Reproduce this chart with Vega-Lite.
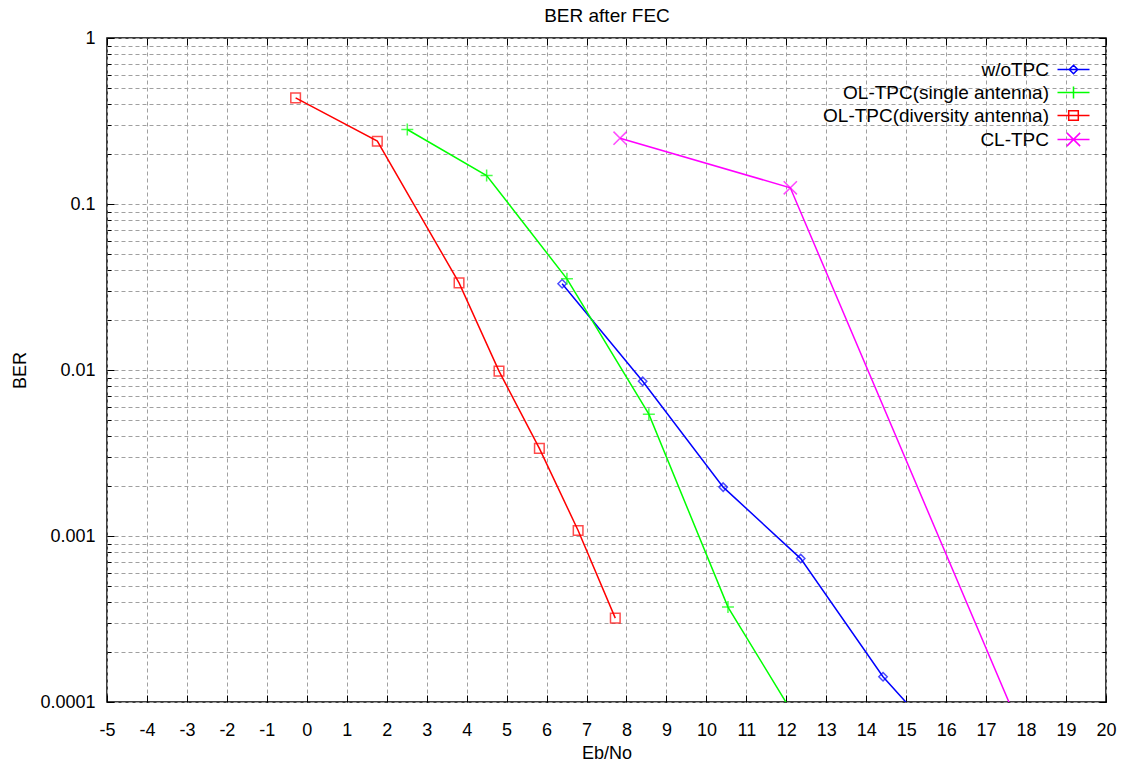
{
  "$schema": "https://vega.github.io/schema/vega-lite/v6.json",
  "width": 999,
  "height": 664,
  "autosize": {"type": "none"},
  "padding": {"left": 107, "top": 38, "right": 18, "bottom": 60},
  "background": "white",
  "config": {
    "font": "Liberation Sans",
    "view": {"stroke": "black", "strokeWidth": 1.5},
    "axis": {"domain": false, "labelFont": "Liberation Sans", "labelFontSize": 18, "labelColor": "black", "tickColor": "black", "tickWidth": 1, "gridColor": "#a0a0a0", "gridDash": [4, 3], "gridWidth": 1, "titleFont": "Liberation Sans", "titleFontSize": 18, "titleFontWeight": "normal", "titleColor": "black", "labelOverlap": false, "labelFlush": false}
  },
  "datasets": {
    "ber": [
      {"series": "w/oTPC", "x": 6.39, "y": 0.0331},
      {"series": "w/oTPC", "x": 8.405, "y": 0.00856},
      {"series": "w/oTPC", "x": 10.42, "y": 0.00197},
      {"series": "w/oTPC", "x": 12.36, "y": 0.000731},
      {"series": "w/oTPC", "x": 14.42, "y": 0.000142},
      {"series": "w/oTPC", "x": 16.4, "y": 0.000042},
      {"series": "OL-TPC(single antenna)", "x": 2.515, "y": 0.281},
      {"series": "OL-TPC(single antenna)", "x": 4.5, "y": 0.1485},
      {"series": "OL-TPC(single antenna)", "x": 6.51, "y": 0.0354},
      {"series": "OL-TPC(single antenna)", "x": 8.56, "y": 0.00542},
      {"series": "OL-TPC(single antenna)", "x": 10.54, "y": 0.000373},
      {"series": "OL-TPC(single antenna)", "x": 12.55, "y": 0.00006},
      {"series": "OL-TPC(diversity antenna)", "x": -0.28, "y": 0.436},
      {"series": "OL-TPC(diversity antenna)", "x": 1.765, "y": 0.239},
      {"series": "OL-TPC(diversity antenna)", "x": 3.81, "y": 0.0335},
      {"series": "OL-TPC(diversity antenna)", "x": 4.81, "y": 0.00984},
      {"series": "OL-TPC(diversity antenna)", "x": 5.82, "y": 0.00337},
      {"series": "OL-TPC(diversity antenna)", "x": 6.79, "y": 0.00108},
      {"series": "OL-TPC(diversity antenna)", "x": 7.72, "y": 0.00032},
      {"series": "CL-TPC", "x": 7.84, "y": 0.249},
      {"series": "CL-TPC", "x": 12.1, "y": 0.1252},
      {"series": "CL-TPC", "x": 18.2, "y": 0.000044}
    ]
  },
  "data": {"name": "ber"},
  "layer": [
    {
      "mark": {"type": "line", "strokeWidth": 1.5, "clip": true},
      "encoding": {
        "x": {"field": "x", "type": "quantitative", "scale": {"domain": [-5, 20], "nice": false, "zero": false},
          "axis": {"orient": "bottom", "values": [-5,-4,-3,-2,-1,0,1,2,3,4,5,6,7,8,9,10,11,12,13,14,15,16,17,18,19,20], "grid": true, "ticks": true, "tickSize": -7, "labelExpr": "'' + datum.value", "labelBaseline": "alphabetic", "labelPadding": 40.7, "title": "Eb/No", "titleBaseline": "alphabetic", "titleY": 56}},
        "y": {"field": "y", "type": "quantitative", "scale": {"type": "log", "domain": [0.0001, 1], "nice": false},
          "axis": {"orient": "left", "values": [0.0001, 0.001, 0.01, 0.1, 1], "grid": false, "ticks": true, "tickSize": -7, "labelExpr": "'' + datum.value", "labelBaseline": "middle", "labelPadding": 19, "title": "BER", "titleBaseline": "alphabetic", "titleX": -82}},
        "color": {"field": "series", "type": "nominal",
          "scale": {"domain": ["w/oTPC", "OL-TPC(single antenna)", "OL-TPC(diversity antenna)", "CL-TPC"], "range": ["#0000ff", "#00ff00", "#ff0000", "#ff00ff"]},
          "legend": {"title": null, "orient": "none", "legendX": 957, "legendY": 22, "padding": 0, "symbolSize": 256, "symbolStrokeWidth": 1.5, "labelFontSize": 19, "labelFont": "Liberation Sans", "labelColor": "black", "labelAlign": "right", "labelOffset": -34, "labelLimit": 400, "rowPadding": 3,
            "encode": {"symbols": {"update": {"shape": {"signal": "datum.value === 'w/oTPC' ? 'M-2,0H2M0,-0.53L0.53,0L0,0.53L-0.53,0Z' : datum.value === 'OL-TPC(single antenna)' ? 'M-2,0H2M0,-0.75V0.75' : datum.value === 'OL-TPC(diversity antenna)' ? 'M-2,0H2M-0.6,-0.6H0.6V0.6H-0.6Z' : 'M-2,0H2M-0.83,-0.83L0.83,0.83M-0.83,0.83L0.83,-0.83'"}, "fill": {"value": "transparent"}}}}}}
      }
    },
    {
      "transform": [{"filter": "datum.series === 'w/oTPC'"}],
      "mark": {"type": "point", "filled": false, "strokeWidth": 1.5, "size": 144, "clip": true, "color": "#0000ff", "shape": "M0,-0.7L0.7,0L0,0.7L-0.7,0Z"},
      "encoding": {
        "x": {"field": "x", "type": "quantitative", "scale": {"domain": [-5, 20], "nice": false, "zero": false},
          "axis": {"orient": "top", "values": [-5,-4,-3,-2,-1,0,1,2,3,4,5,6,7,8,9,10,11,12,13,14,15,16,17,18,19,20], "grid": false, "ticks": true, "tickSize": -7, "labels": false, "title": "BER after FEC", "titleFontSize": 19, "titleBaseline": "alphabetic", "titleY": -17}},
        "y": {"field": "y", "type": "quantitative", "scale": {"type": "log", "domain": [0.0001, 1], "nice": false},
          "axis": {"orient": "left", "values": [0.0001,0.0002,0.0003,0.0004,0.0005,0.0006,0.0007,0.0008,0.0009,0.001,0.002,0.003,0.004,0.005,0.006,0.007,0.008,0.009,0.01,0.02,0.03,0.04,0.05,0.06,0.07,0.08,0.09,0.1,0.2,0.3,0.4,0.5,0.6,0.7,0.8,0.9,1], "grid": true, "ticks": true, "tickSize": -4, "labels": false, "title": null}}
      }
    },
    {
      "transform": [{"filter": "datum.series === 'OL-TPC(single antenna)'"}],
      "mark": {"type": "point", "filled": false, "strokeWidth": 1.5, "size": 144, "clip": true, "color": "#00ff00", "shape": "M-1,0H1M0,-1V1"},
      "encoding": {
        "x": {"field": "x", "type": "quantitative", "scale": {"domain": [-5, 20], "nice": false, "zero": false}, "axis": null},
        "y": {"field": "y", "type": "quantitative", "scale": {"type": "log", "domain": [0.0001, 1], "nice": false},
          "axis": {"orient": "right", "values": [0.0001, 0.001, 0.01, 0.1, 1], "grid": false, "ticks": true, "tickSize": -7, "labels": false, "title": null}}
      }
    },
    {
      "transform": [{"filter": "datum.series === 'OL-TPC(diversity antenna)'"}],
      "mark": {"type": "point", "filled": false, "strokeWidth": 1.5, "size": 144, "clip": true, "color": "#ff0000", "shape": "M-0.8,-0.8H0.8V0.8H-0.8Z"},
      "encoding": {
        "x": {"field": "x", "type": "quantitative", "scale": {"domain": [-5, 20], "nice": false, "zero": false}, "axis": null},
        "y": {"field": "y", "type": "quantitative", "scale": {"type": "log", "domain": [0.0001, 1], "nice": false},
          "axis": {"orient": "right", "values": [0.0002,0.0003,0.0004,0.0005,0.0006,0.0007,0.0008,0.0009,0.002,0.003,0.004,0.005,0.006,0.007,0.008,0.009,0.02,0.03,0.04,0.05,0.06,0.07,0.08,0.09,0.2,0.3,0.4,0.5,0.6,0.7,0.8,0.9], "grid": false, "ticks": true, "tickSize": -4, "labels": false, "title": null}}
      }
    },
    {
      "transform": [{"filter": "datum.series === 'CL-TPC'"}],
      "mark": {"type": "point", "filled": false, "strokeWidth": 1.5, "size": 144, "clip": true, "color": "#ff00ff", "shape": "M-1.1,-1.1L1.1,1.1M-1.1,1.1L1.1,-1.1"},
      "encoding": {
        "x": {"field": "x", "type": "quantitative", "scale": {"domain": [-5, 20], "nice": false, "zero": false}, "axis": null},
        "y": {"field": "y", "type": "quantitative", "scale": {"type": "log", "domain": [0.0001, 1], "nice": false}, "axis": null}
      }
    }
  ],
  "resolve": {"axis": {"x": "independent", "y": "independent"}}
}
